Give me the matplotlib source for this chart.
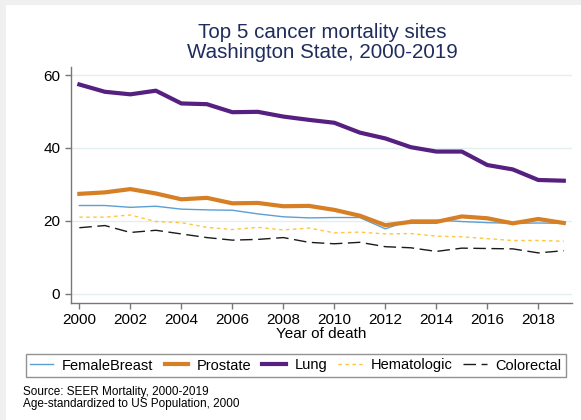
import matplotlib
matplotlib.use("Agg")
import matplotlib.pyplot as plt
from matplotlib.patches import Rectangle

years = list(range(2000, 2020))
female_breast = [24.2, 24.2, 23.7, 24.0, 23.2, 23.0, 22.9, 21.9, 21.1, 20.8,
                 20.9, 20.9, 17.8, 20.2, 20.2, 19.8, 19.5, 19.3, 19.4, 19.3]
prostate = [27.4, 27.8, 28.7, 27.5, 25.9, 26.3, 24.8, 24.9, 24.0, 24.1,
            23.0, 21.4, 18.8, 19.7, 19.7, 21.2, 20.7, 19.3, 20.5, 19.4]
lung = [57.4, 55.4, 54.7, 55.7, 52.2, 52.0, 49.8, 49.9, 48.6, 47.7,
        46.9, 44.2, 42.6, 40.2, 39.0, 39.0, 35.3, 34.1, 31.2, 31.0]
hematologic = [21.0, 21.0, 21.6, 19.8, 19.5, 18.2, 17.6, 18.2, 17.5, 18.0,
               16.7, 16.9, 16.4, 16.5, 15.8, 15.6, 15.1, 14.6, 14.6, 14.4]
colorectal = [18.1, 18.7, 16.8, 17.4, 16.4, 15.4, 14.7, 14.9, 15.4, 14.1,
              13.7, 14.1, 12.9, 12.6, 11.6, 12.5, 12.4, 12.3, 11.2, 11.8]
series_names = ["FemaleBreast", "Prostate", "Lung", "Hematologic", "Colorectal"]
y_ticks = [0, 20, 40, 60]
x_ticks = list(range(2000, 2019, 2))

plt.rcParams['font.family'] = ['Liberation Sans', 'DejaVu Sans']

W, H = 581, 420
fig = plt.figure(figsize=(W / 100, H / 100), dpi=100)
fig.patch.set_facecolor("#f0f0f0")
fig.patches.append(Rectangle((6 / W, 0), 1, 1 - 5 / H, transform=fig.transFigure,
                             facecolor="white", edgecolor="none", zorder=-10))

ax = fig.add_axes([70.7 / W, 1 - 303 / H, (571.7 - 70.7) / W, (303 - 67) / H])
ax.set_facecolor("white")

ax.plot(years, female_breast, color="#5b9fd4", lw=1.0, label=series_names[0], zorder=3)
ax.plot(years, prostate, color="#d67f24", lw=3.0, label=series_names[1], zorder=4)
ax.plot(years, lung, color="#55207f", lw=3.0, label=series_names[2], zorder=5)
ax.plot(years, hematologic, color="#ffc53d", lw=1.0, ls=(0, (2.5, 2.5)), label=series_names[3], zorder=3)
ax.plot(years, colorectal, color="#1a1a1a", lw=1.0, ls=(0, (9, 4)), label=series_names[4], zorder=3)

ax.set_xlim(1999.66, 2019.31)
ax.set_ylim(-2.55, 62.2)
ax.set_yticks(y_ticks)
ax.set_xticks(x_ticks)
ax.grid(axis="y", color="#e3eef0", lw=1.0)
ax.set_axisbelow(True)
for s in ["top", "right"]:
    ax.spines[s].set_visible(False)
for s in ["left", "bottom"]:
    ax.spines[s].set_color("#777777")
    ax.spines[s].set_linewidth(1.0)
ax.tick_params(axis="both", colors="#777777", labelcolor="black", labelsize=11,
               length=4, width=1.0, direction="out")
ax.tick_params(axis="x", pad=3)
ax.set_xlabel("Year of death", fontsize=11, labelpad=0)

fig.text(0.555, 1 - 32 / H, "Top 5 cancer mortality sites", ha="center", va="center",
         fontsize=14.8, color="#1f2d5c")
fig.text(0.555, 1 - 52.5 / H, "Washington State, 2000-2019", ha="center", va="center",
         fontsize=14.8, color="#1f2d5c")

leg = fig.legend(loc="center", bbox_to_anchor=(25.7 / W, 1 - 379 / H, (566 - 25.7) / W, 27 / H),
                 mode="expand", ncol=5, fontsize=10.5, frameon=True, fancybox=False,
                 handlelength=1.6, handletextpad=0.6, borderpad=0.3, borderaxespad=0)
leg.get_frame().set_edgecolor("#777777")
leg.get_frame().set_linewidth(1.0)

fig.text(23 / W, 1 - 392 / H, "Source: SEER Mortality, 2000-2019", ha="left", va="center", fontsize=8.5)
fig.text(23 / W, 1 - 403.5 / H, "Age-standardized to US Population, 2000", ha="left", va="center", fontsize=8.5)

fig.savefig("out.png", dpi=100)
